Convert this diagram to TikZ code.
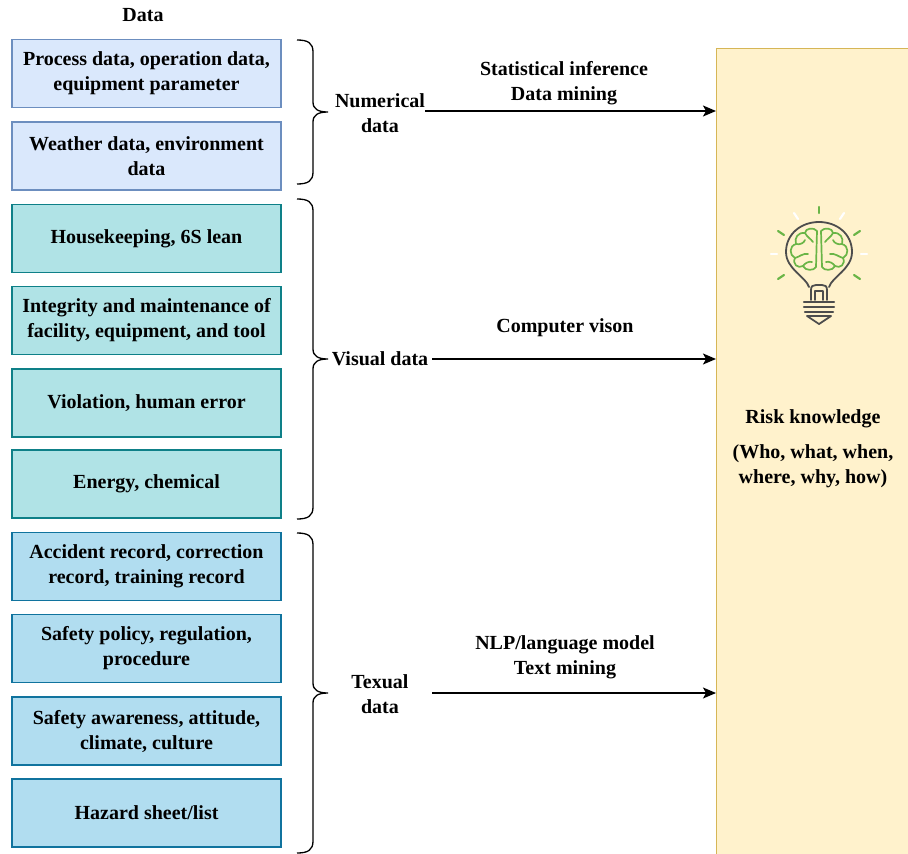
\documentclass[tikz,border=0pt]{standalone}
\usepackage{fontspec}
\setmainfont{Liberation Serif}
\usetikzlibrary{arrows.meta,calc}
\definecolor{numfill}{HTML}{DAE8FC}\definecolor{numdraw}{HTML}{6C8EBF}
\definecolor{visfill}{HTML}{B0E3E6}\definecolor{visdraw}{HTML}{0E8088}
\definecolor{txtfill}{HTML}{B1DDF0}\definecolor{txtdraw}{HTML}{10739E}
\definecolor{riskfill}{HTML}{FFF2CC}\definecolor{riskdraw}{HTML}{D6B656}
\definecolor{bulbgray}{HTML}{4D4D4D}\definecolor{braingreen}{HTML}{6AB547}
\newcommand\curlyBraceAt[3]{%
  \draw[brace] (297,#1) .. controls (308,#1) and (313,#1+3) .. (313,#1+12)
    -- (313,#3-10) .. controls (313,#3-3) and (318,#3) .. (328,#3)
    .. controls (318,#3) and (313,#3+3) .. (313,#3+10)
    -- (313,#2-12) .. controls (313,#2-3) and (308,#2) .. (297,#2);}
\newcommand\brainHalfPath{%
  \draw[brainline] (817,231) .. controls (814,227) and (805,228) .. (805,233)
    .. controls (798,232) and (794,238) .. (796,244)
    .. controls (789,246) and (789,255) .. (795,258)
    .. controls (792,264) and (798,269) .. (803,266)
    .. controls (805,271) and (814,271) .. (816,267) -- (817,231);
  \draw[brainline] (796,244) .. controls (800,245) and (804,243) .. (805,240);
  \draw[brainline] (795,258) .. controls (799,257) and (803,253) .. (808,254);
  \draw[brainline] (803,266) .. controls (805,263) and (809,261) .. (812,262);
  \draw[brainline] (805,233) .. controls (807,237) and (811,239) .. (813,242);}
\begin{document}
\begin{tikzpicture}[x=1pt,y=-1pt,
  every node/.style={font=\fontsize{20}{25}\selectfont\bfseries, inner sep=0pt},
  databox/.style={draw, line width=1.1pt, minimum width=269pt, minimum height=68pt, align=center},
  numbox/.style={databox, draw=numdraw, fill=numfill},
  visbox/.style={databox, draw=visdraw, fill=visfill},
  txtbox/.style={databox, draw=txtdraw, fill=txtfill},
  lbl/.style={align=center},
  brace/.style={line width=1.3pt, black},
  flow/.style={line width=1.5pt, black, -{Stealth[length=13pt,width=11pt,inset=3pt]}},
  brainline/.style={braingreen, line width=1.7pt, line cap=round, line join=round},
  bulbline/.style={bulbgray, line width=1.8pt, line cap=round, line join=round},
  ray/.style={line width=2.2pt, line cap=round}]
\useasboundingbox (0,0) rectangle (908,854);
\fill[white] (0,0) rectangle (908,854);

% title
\node (title) at (143,15) {Data};

% data boxes
\node[numbox] (b1) at (146.5,73.5) {Process data, operation data,\\equipment parameter};
\node[numbox] (b2) at (146.5,156) {Weather data, environment\\data};
\node[visbox] (b3) at (146.5,238.5) {Housekeeping, 6S lean};
\node[visbox] (b4) at (146.5,320.5) {Integrity and maintenance of\\facility, equipment, and tool};
\node[visbox] (b5) at (146.5,403) {Violation, human error};
\node[visbox] (b6) at (146.5,484) {Energy, chemical};
\node[txtbox] (b7) at (146.5,566.5) {Accident record, correction\\record, training record};
\node[txtbox] (b8) at (146.5,648.5) {Safety policy, regulation,\\procedure};
\node[txtbox] (b9) at (146.5,731) {Safety awareness, attitude,\\climate, culture};
\node[txtbox] (b10) at (146.5,813) {Hazard sheet/list};

% braces
\curlyBraceAt{40}{184}{112}
\curlyBraceAt{199}{519}{359}
\curlyBraceAt{533}{853}{693}

% group labels
\node[lbl] (numlbl) at (380,113) {Numerical\\data};
\node[lbl] (vislbl) at (380,359) {Visual data};
\node[lbl] (txtlbl) at (380,694) {Texual\\data};

% risk knowledge box
\node[draw=riskdraw, fill=riskfill, line width=1.2pt, minimum width=200pt,
      minimum height=830pt, anchor=north west] (risk) at (716,48) {};
\node[lbl] (risktext) at (813,449) {Risk knowledge\\[10pt](Who, what, when,\\where, why, how)};

% lightbulb icon
\draw[ray, braingreen] (819,207) -- (819,213);
\draw[ray, braingreen] (854,235) -- (860,231);
\draw[ray, braingreen] (784,235) -- (778,231);
\draw[ray, braingreen] (854,275) -- (860,279);
\draw[ray, braingreen] (784,275) -- (778,279);
\draw[ray, white] (840,219) -- (844,213);
\draw[ray, white] (798,219) -- (794,213);
\draw[ray, white] (861,254) -- (867,254);
\draw[ray, white] (777,254) -- (771,254);
\draw[bulbline] (809,287) .. controls (806,277) and (786,269) .. (786,252)
  .. controls (786,234) and (801,222) .. (819,222)
  .. controls (837,222) and (852,234) .. (852,252)
  .. controls (852,269) and (832,277) .. (829,287);
\draw[bulbline] (811,300) -- (811,290) .. controls (811,286) and (813,285) .. (816,285)
  -- (822,285) .. controls (825,285) and (827,286) .. (827,290) -- (827,300);
\draw[bulbline] (815,300) -- (815,291) -- (823,291) -- (823,300);
\draw[bulbline, line width=2.4pt] (804,302) -- (834,302);
\draw[bulbline, line width=2.4pt] (804,307) -- (834,307);
\draw[bulbline, line width=2.4pt] (805,312) -- (833,312);
\draw[bulbline] (807,316) -- (831,316) -- (819,324) -- cycle;
\brainHalfPath
\begin{scope}[shift={(1638,0)}, xscale=-1]
\brainHalfPath
\end{scope}

% method labels
\node[lbl] (m1) at (564,83.5) {Statistical inference\\Data mining};
\node[lbl] (m2) at (565,328) {Computer vison};
\node[lbl] (m3) at (565,657.5) {NLP/language model\\Text mining};

% arrows
\coordinate (a1) at (425,111);
\coordinate (a2) at (432,359);
\coordinate (a3) at (432,693);
\draw[flow] (a1) -- (a1 -| risk.west);
\draw[flow] (a2) -- (a2 -| risk.west);
\draw[flow] (a3) -- (a3 -| risk.west);
\end{tikzpicture}
\end{document}
